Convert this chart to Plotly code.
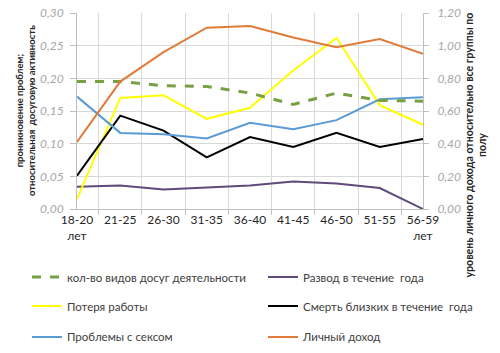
import plotly.graph_objects as go

categories = ["18-20<br>лет", "21-25", "26-30", "31-35", "36-40", "41-45", "46-50", "51-55", "56-59<br>лет"]

# right axis (0..1.2)
leisure_kinds = [0.78, 0.78, 0.755, 0.75, 0.71, 0.64, 0.71, 0.665, 0.66]
income = [0.41, 0.78, 0.96, 1.11, 1.12, 1.05, 0.99, 1.04, 0.95]
# left axis (0..0.30)
divorce = [0.034, 0.036, 0.030, 0.033, 0.036, 0.042, 0.039, 0.032, 0.0]
job_loss = [0.015, 0.170, 0.174, 0.138, 0.155, 0.212, 0.262, 0.159, 0.129]
death = [0.051, 0.143, 0.120, 0.079, 0.110, 0.095, 0.1165, 0.095, 0.107]
sex_problems = [0.172, 0.1165, 0.1145, 0.108, 0.132, 0.122, 0.136, 0.168, 0.171]

names = ["кол-во видов досуг деятельности", "Развод в течение  года", "Потеря работы",
         "Смерть близких в течение  года", "Проблемы с сексом", "Личный доход"]

FONT = "Lato"
fig = go.Figure()
fig.add_trace(go.Scatter(x=categories, y=leisure_kinds, name=names[0], yaxis="y2", mode="lines",
                         line=dict(color="#77A043", width=3, dash="dash"), legend="legend"))
fig.add_trace(go.Scatter(x=categories, y=divorce, name=names[1], mode="lines",
                         line=dict(color="#604A7B", width=2), legend="legend2"))
fig.add_trace(go.Scatter(x=categories, y=job_loss, name=names[2], mode="lines",
                         line=dict(color="#FFFF00", width=2), legend="legend3"))
fig.add_trace(go.Scatter(x=categories, y=death, name=names[3], mode="lines",
                         line=dict(color="#000000", width=2), legend="legend4"))
fig.add_trace(go.Scatter(x=categories, y=sex_problems, name=names[4], mode="lines",
                         line=dict(color="#5B9BD5", width=2), legend="legend5"))
fig.add_trace(go.Scatter(x=categories, y=income, name=names[5], yaxis="y2", mode="lines",
                         line=dict(color="#E07B39", width=2), legend="legend6"))
# invisible helper trace that only carries the short tick marks of the category axis
fig.add_trace(go.Scatter(x=categories, y=divorce, xaxis="x2", mode="lines", showlegend=False,
                         hoverinfo="skip", line=dict(color="rgba(0,0,0,0)", width=0)))

legend_common = dict(font=dict(family=FONT, size=11.5, color="#404040"),
                     bgcolor="rgba(0,0,0,0)", xanchor="left", yanchor="middle", itemwidth=30)
col_x = [-0.1445, 0.5376]
row_y = [-0.347, -0.495, -0.653]

fig.update_layout(
    width=500, height=353,
    margin=dict(l=77, r=77, t=13, b=144, autoexpand=False),
    paper_bgcolor="white", plot_bgcolor="white",
    separators=", ",
    font=dict(family=FONT),
    showlegend=True,
    legend=dict(x=col_x[0], y=row_y[0], **legend_common),
    legend2=dict(x=col_x[1], y=row_y[0], **legend_common),
    legend3=dict(x=col_x[0], y=row_y[1], **legend_common),
    legend4=dict(x=col_x[1], y=row_y[1], **legend_common),
    legend5=dict(x=col_x[0], y=row_y[2], **legend_common),
    legend6=dict(x=col_x[1], y=row_y[2], **legend_common),
    xaxis=dict(type="category", tickson="boundaries", showgrid=True, gridcolor="#D9D9D9",
               showline=True, linecolor="#BFBFBF", ticks="outside", ticklen=11,
               tickcolor="rgba(0,0,0,0)",
               tickfont=dict(family=FONT, size=12, color="#262626"), tickangle=0),
    xaxis2=dict(type="category", tickson="boundaries", overlaying="x", matches="x", side="bottom",
                anchor="y", showgrid=False, showline=False, showticklabels=False,
                ticks="outside", ticklen=5, tickcolor="#BFBFBF"),
    yaxis=dict(range=[0, 0.30], dtick=0.05, tickformat=".2f", showgrid=True, gridcolor="#D9D9D9",
               showline=True, linecolor="#BFBFBF", ticks="outside", ticklen=6, tickcolor="#BFBFBF",
               ticklabelstandoff=4,
               tickfont=dict(family=FONT, size=12, color="#A6A6A6", style="italic"), zeroline=False),
    yaxis2=dict(range=[0, 1.2], dtick=0.2, tickformat=".2f", overlaying="y", side="right",
                showgrid=False, showline=True, linecolor="#BFBFBF", ticks="outside", ticklen=5,
                tickcolor="#BFBFBF", zeroline=False, ticklabelstandoff=6,
                tickfont=dict(family=FONT, size=12, color="#A6A6A6", style="italic")),
    annotations=[
        dict(text="<b>проникновение проблем;<br>относительная  досуговую активность</b>",
             xref="paper", yref="paper", x=-0.15, y=0.5, xanchor="center", yanchor="middle",
             textangle=-90, showarrow=False, font=dict(family=FONT, size=9.5, color="#262626")),
        dict(text="<b>уровень личного дохода относительно все группы по<br>полу</b>",
             xref="paper", yref="paper", x=1.152, y=0.327, xanchor="center", yanchor="middle",
             textangle=-90, showarrow=False, font=dict(family=FONT, size=10.6, color="#262626")),
    ],
)

fig.write_html("out.html")
